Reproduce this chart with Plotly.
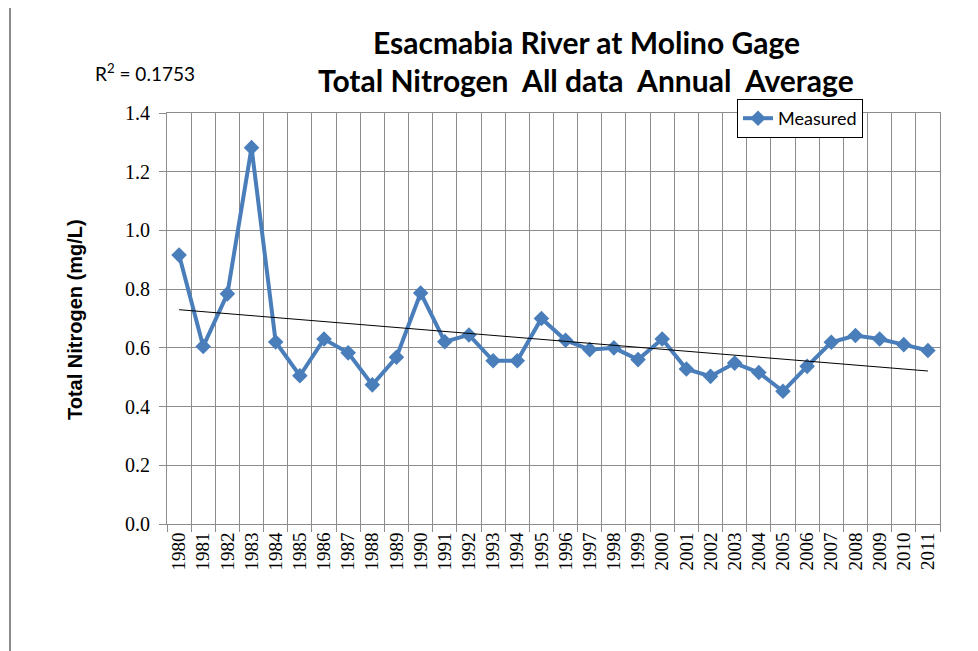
import numpy as np
import plotly.graph_objects as go

years = [str(y) for y in range(1980, 2012)]
measured = [0.916, 0.605, 0.784, 1.282, 0.620, 0.505, 0.630, 0.583, 0.474, 0.568,
            0.787, 0.621, 0.644, 0.556, 0.556, 0.700, 0.626, 0.594, 0.600, 0.560,
            0.630, 0.528, 0.503, 0.548, 0.516, 0.452, 0.537, 0.619, 0.642, 0.630,
            0.611, 0.591]
y_ticks = [0.0, 0.2, 0.4, 0.6, 0.8, 1.0, 1.2, 1.4]
title_line1 = "Esacmabia River at Molino Gage"
title_line2 = "Total Nitrogen  All data  Annual  Average"
r2_text = "R<sup>2</sup> = 0.1753"

# linear trend (Excel-style trendline) from the data
idx = np.arange(len(measured))
slope, intercept = np.polyfit(idx, measured, 1)
trend = list(slope * idx + intercept)

OFF = 8  # page body margin
W, H = 978 - OFF, 651 - OFF
L, R, T, B = 167 - OFF, 940 - OFF, 113 - OFF, 524 - OFF

def px(x):
    return (x - OFF - L) / (R - L)

def py(y):
    return (B - (y - OFF)) / (B - T)

BLUE = "#4A7EBB"
GRID = "#8C8C8C"

fig = go.Figure()
fig.add_trace(go.Scatter(
    x=years, y=measured, mode="lines+markers", name="Measured",
    line=dict(color=BLUE, width=4),
    marker=dict(symbol="diamond", size=12, color=BLUE),
))
fig.add_trace(go.Scatter(
    x=years, y=trend, mode="lines", showlegend=False,
    line=dict(color="black", width=1), hoverinfo="skip",
))

fig.update_layout(
    width=W, height=H,
    margin=dict(l=L, r=W - R, t=T, b=H - B, autoexpand=False),
    paper_bgcolor="white", plot_bgcolor="white",
    showlegend=True,
    legend=dict(
        x=px(737), y=py(99), xanchor="left", yanchor="top",
        bgcolor="white", bordercolor="black", borderwidth=1,
        font=dict(family="Lato", size=18, color="black"),
        itemwidth=30, tracegroupgap=0,
    ),
)

fig.update_xaxes(
    type="category", tickson="boundaries",
    categoryorder="array", categoryarray=years,
    tickmode="array", tickvals=years, ticktext=years,
    range=[-0.5, len(years) - 0.5],
    showgrid=True, gridcolor=GRID, gridwidth=1,
    showline=True, linecolor=GRID, linewidth=1, mirror=True,
    ticks="outside", ticklen=7, tickcolor=GRID,
    tickangle=-90,
    tickfont=dict(family="Liberation Serif", size=19, color="black"),
)
fig.update_yaxes(
    range=[0, 1.4], tickvals=y_ticks, tickformat=".1f",
    showgrid=True, gridcolor=GRID, gridwidth=1,
    showline=True, linecolor=GRID, linewidth=1, mirror=True,
    ticks="outside", ticklen=7, tickcolor=GRID,
    ticklabelstandoff=5,
    tickfont=dict(family="Liberation Serif", size=20, color="black"),
    zeroline=False,
)

# outer chart-area border
fig.add_shape(type="rect", xref="paper", yref="paper",
              x0=px(10), x1=px(1000), y0=py(680), y1=py(5),
              line=dict(color="#8A8A8A", width=2), fillcolor="rgba(0,0,0,0)",
              layer="below")

fig.add_annotation(text="<b>" + title_line1 + "</b>", xref="paper", yref="paper",
                   x=px(586), y=py(42), xanchor="center", yanchor="middle",
                   showarrow=False, font=dict(family="Lato", size=30, color="black"))
fig.add_annotation(text="<b>" + title_line2 + "</b>", xref="paper", yref="paper",
                   x=px(586), y=py(80), xanchor="center", yanchor="middle",
                   showarrow=False, font=dict(family="Lato", size=30, color="black"))
fig.add_annotation(text=r2_text, xref="paper", yref="paper",
                   x=px(93), y=py(72), xanchor="left", yanchor="middle",
                   showarrow=False, font=dict(family="Lato", size=19, color="black"))
fig.add_annotation(text="<b>Total Nitrogen (mg/L)</b>", xref="paper", yref="paper",
                   x=px(75), y=py(320), xanchor="center", yanchor="middle",
                   textangle=-90, showarrow=False,
                   font=dict(family="Liberation Sans", size=20, color="black"))

fig.write_html("out.html")
